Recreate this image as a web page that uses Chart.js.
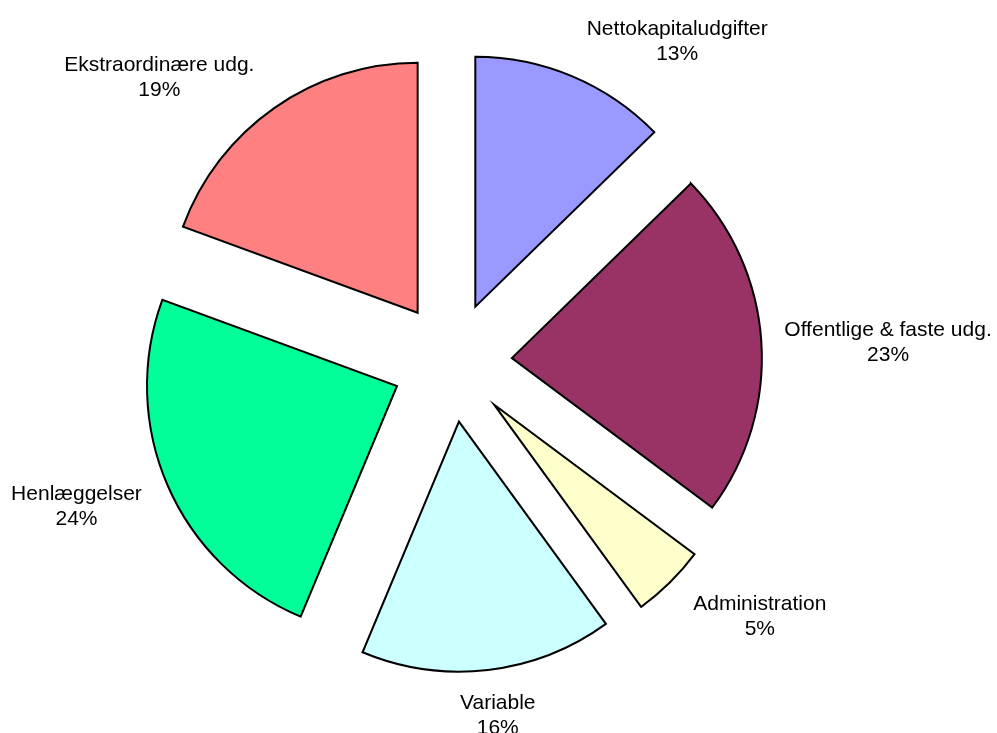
<!DOCTYPE html>
<html>
<head>
<meta charset="utf-8">
<script src="https://cdn.jsdelivr.net/npm/chart.js@4.4.0/dist/chart.umd.min.js"></script>
<style>
  html, body { margin: 0; padding: 0; background: #fff; }
  #wrap { width: 997px; height: 733px; }
</style>
</head>
<body>
<div id="wrap"><canvas id="myChart" width="997" height="733"></canvas></div>
<script>
    var labels = ['Nettokapitaludgifter', 'Offentlige & faste udg.', 'Administration', 'Variable', 'Henlæggelser', 'Ekstraordinære udg.'];
    var values = [12.7, 22.5, 4.8, 16.3, 24.3, 19.4];
    var colors = ['#9999FF', '#993366', '#FFFFCC', '#CCFFFF', '#00FF99', '#FF8080'];

    var explode = 60;

    // push every slice out from the centre by the same distance
    var explodePlugin = {
        id: 'explode',
        afterDatasetUpdate: function (chart, args) {
            args.meta.data.forEach(function (el) {
                var mid = (el.startAngle + el.endAngle) / 2;
                el.x += Math.cos(mid) * explode;
                el.y += Math.sin(mid) * explode;
            });
        }
    };

    // category name + percent outside each slice
    var labelPlugin = {
        id: 'sliceLabels',
        afterDatasetsDraw: function (chart) {
            var ctx = chart.ctx;
            var meta = chart.getDatasetMeta(0);
            var total = values.reduce(function (a, b) { return a + b; }, 0);
            var lineH = 25;
            ctx.save();
            ctx.font = '21px "Liberation Sans", Arial, sans-serif';
            ctx.fillStyle = '#000';
            ctx.textAlign = 'center';
            ctx.textBaseline = 'middle';
            meta.data.forEach(function (el, i) {
                var mid = (el.startAngle + el.endAngle) / 2;
                var dx = Math.cos(mid), dy = Math.sin(mid);
                var r = el.outerRadius + 22;
                var px = el.x + dx * r, py = el.y + dy * r;
                var pct = Math.round(values[i] / total * 100) + '%';
                var w = Math.max(ctx.measureText(labels[i]).width, ctx.measureText(pct).width);
                var h = lineH * 2;
                var sx = Math.sign(dx) * Math.min(1, Math.max(0, (Math.abs(dx) - 0.08) * 4));
                var sy = dy * 0.8;
                var cx = px + sx * w / 2 + 16 * dx * Math.abs(dy);
                var cy = py + sy * h / 2 + 4;
                ctx.fillText(labels[i], cx, cy - lineH / 2);
                ctx.fillText(pct, cx, cy + lineH / 2);
            });
            ctx.restore();
        }
    };

    var ctx = document.getElementById('myChart').getContext('2d');
    var chart = new Chart(ctx, {
        type: 'pie',
        data: {
            labels: labels,
            datasets: [{
                data: values,
                backgroundColor: colors,
                borderColor: '#000000',
                borderWidth: 2,
                borderJoinStyle: 'miter'
            }]
        },
        options: {
            responsive: false,
            animation: false,
            radius: 250,
            layout: { padding: { left: 0, right: 93, top: 0, bottom: 9 } },
            plugins: {
                legend: { display: false },
                tooltip: { enabled: false }
            }
        },
        plugins: [explodePlugin, labelPlugin]
    });
</script>
</body>
</html>
